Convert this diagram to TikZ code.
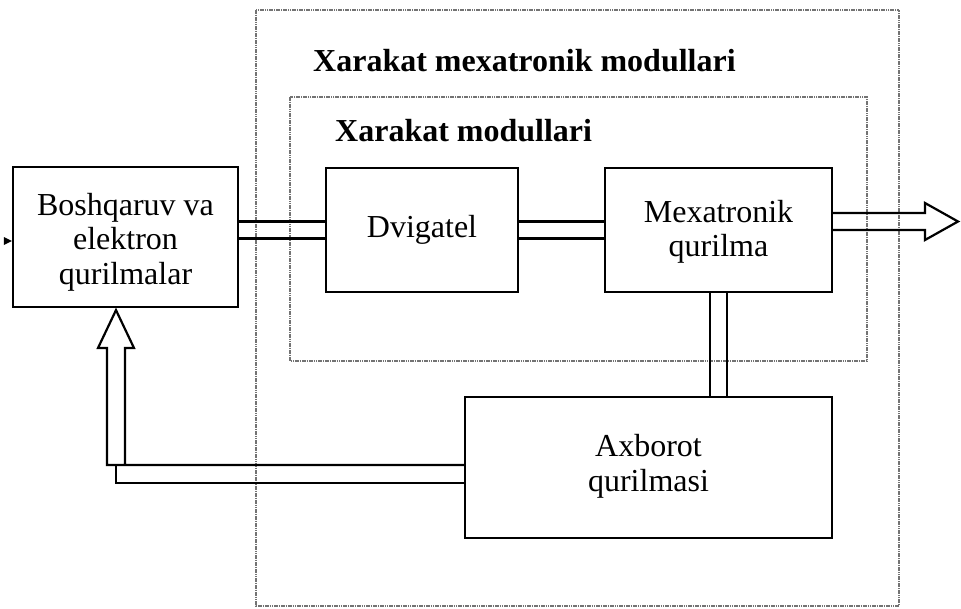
\documentclass[tikz,border=0pt]{standalone}
\usepackage{fontspec}
\setmainfont{Liberation Serif}
\usetikzlibrary{calc}
\begin{document}
\begin{tikzpicture}[x=1pt,y=-1pt,
  blockbox/.style={draw, line width=2.2pt, inner sep=0pt},
  lbl/.style={font=\fontsize{32}{34.5}\selectfont, align=center, inner sep=0pt},
  ttl/.style={font=\fontsize{32}{38}\selectfont\bfseries, anchor=base west, inner sep=0pt},
  zone/.style={draw=black!55, line width=1.9pt, dash pattern=on 1.6pt off 0.7pt},
  wire/.style={line width=2.2pt, line join=miter}]
\useasboundingbox (0,0) rectangle (961,608);

% module boundaries
\draw[zone] (256,10) rectangle (899,606);
\draw[zone] (290,97) rectangle (867,361);
\node[ttl] (outerTitle) at (313,71) {Xarakat mexatronik modullari};
\node[ttl] (innerTitle) at (335,141) {Xarakat modullari};

% blocks
\node[blockbox, minimum width=225pt, minimum height=140pt] (ctrl) at (125.5,237) {};
\node[lbl] (ctrlText) at ($(ctrl.center)+(0,5)$) {Boshqaruv va\\elektron\\qurilmalar};

\node[blockbox, minimum width=192pt, minimum height=124pt] (dvig) at (422,230) {};
\node[lbl] (dvigText) at ($(dvig.center)+(0,-0.5)$) {Dvigatel};

\node[blockbox, minimum width=227pt, minimum height=124pt] (mech) at (718.5,230) {};
\node[lbl] (mechText) at ($(mech.center)+(0,2)$) {Mexatronik\\qurilma};

\node[blockbox, minimum width=367pt, minimum height=141pt] (info) at (648.5,467.5) {};
\node[lbl] (infoText) at ($(info.center)+(0,-1)$) {Axborot\\qurilmasi};

% double-line links
\draw[wire] ($(ctrl.east |- dvig.center)+(0,-8.5)$) -- ($(dvig.west)+(0,-8.5)$);
\draw[wire] ($(ctrl.east |- dvig.center)+(0,8.5)$) -- ($(dvig.west)+(0,8.5)$);
\draw[wire] ($(dvig.east)+(0,-8.5)$) -- ($(mech.west)+(0,-8.5)$);
\draw[wire] ($(dvig.east)+(0,8.5)$) -- ($(mech.west)+(0,8.5)$);
\draw[wire] ($(mech.south)+(-8.5,0)$) -- ($(info.north -| mech.south)+(-8.5,0)$);
\draw[wire] ($(mech.south)+(8.5,0)$) -- ($(info.north -| mech.south)+(8.5,0)$);

% output arrow
\coordinate (outTip) at (958,221.5);
\draw[wire] ($(mech.east)+(0,-17)$) -- ($(outTip)+(-33,-8.5)$) -- ($(outTip)+(-33,-18.5)$)
  -- (outTip) -- ($(outTip)+(-33,18.5)$) -- ($(outTip)+(-33,8.5)$) -- (mech.east);

% feedback arrow
\coordinate (fbTip) at ($(ctrl.south)+(-9.5,2)$);
\draw[wire] ($(info.west)+(0,-2.5)$) -- (107,465) -- (107,348) -- (98,348)
  -- (fbTip) -- (134,348) -- (125,348) -- (125,465);
\draw[wire] (116,465) -- (116,483) -- ($(info.west)+(0,15.5)$);

% input mark
\fill ($(ctrl.west)+(-8,0)$) -- ($(ctrl.west)+(0,4)$) -- ($(ctrl.west)+(-8,8)$) -- cycle;
\end{tikzpicture}
\end{document}
